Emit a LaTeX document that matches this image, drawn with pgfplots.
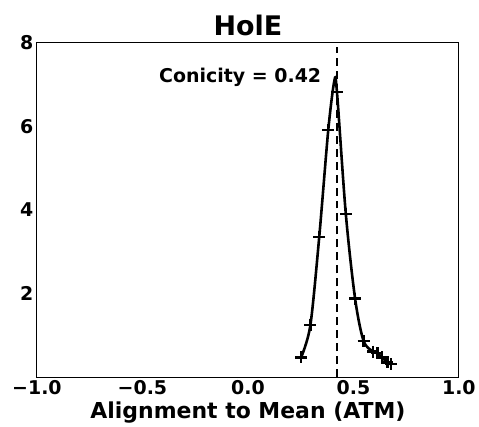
\documentclass[border=0pt]{standalone}
\usepackage{pgfplots}
\pgfplotsset{compat=1.18}
\usepackage{fontspec}
\setmainfont{DejaVu Sans}
\begin{document}
\begin{tikzpicture}
\begin{axis}[
  name=ax,
  scale only axis,
  width=423pt, height=335pt,
  xmin=-1, xmax=1, ymin=0, ymax=8,
  xtick={-1,-0.5,0,0.5,1},
  ytick={2,4,6,8},
  xticklabels={−1.0,−0.5,0.0,0.5,1.0},
  /pgf/number format/assume math mode=true,
  major tick length=0pt,
  ticklabel style={font=\fontsize{19}{19}\selectfont\bfseries},
  yticklabel style={xshift=0pt},
  axis line style={line width=1pt},
  title={\fontsize{27}{27}\selectfont\bfseries HolE},
  title style={yshift=-3pt},
  xlabel={\fontsize{22}{22}\selectfont\bfseries Alignment to Mean (ATM)},
  xlabel style={yshift=0pt},
  clip=false,
]
\addplot[black, line width=2.6pt, smooth, tension=0.5] coordinates {
(0.252,0.47) (0.296,1.24) (0.338,3.35) (0.381,5.92) (0.410,7.10) (0.422,6.83) (0.464,3.91) (0.508,1.88) (0.548,0.87) (0.593,0.61) (0.614,0.57) (0.637,0.47) (0.661,0.35) (0.677,0.31)
};
\addplot[black, only marks, mark=+, mark size=6pt, line width=2.4pt] coordinates {
(0.252,0.47) (0.296,1.24) (0.338,3.35) (0.381,5.92) (0.422,6.83) (0.464,3.91) (0.508,1.88) (0.548,0.87) (0.593,0.61) (0.614,0.57) (0.637,0.47) (0.661,0.35) (0.677,0.31)
};
\addplot[draw=black, line width=2pt, dash pattern=on 8pt off 5pt] coordinates {(0.42,0) (0.42,7.9)};
\node[anchor=east, inner sep=0pt, font=\fontsize{19}{19}\selectfont\bfseries] at (axis cs:0.348,7.18) {Conicity = 0.42};
\end{axis}
\path (ax.south west) ++(-37pt,-48pt) coordinate (bl);
\path (ax.north east) ++(19pt,43pt) coordinate (tr);
\path[use as bounding box] (bl) rectangle (tr);
\end{tikzpicture}
\end{document}
